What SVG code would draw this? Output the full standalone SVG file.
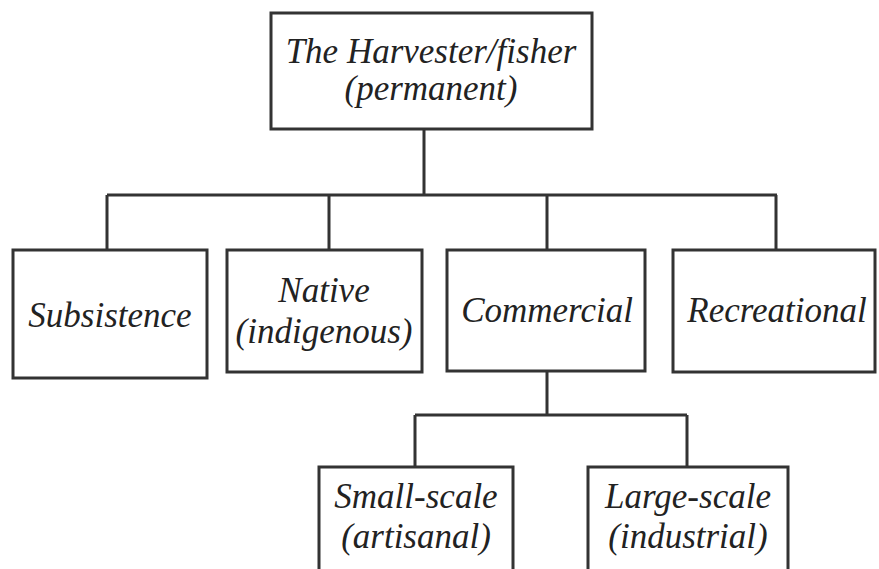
<svg xmlns="http://www.w3.org/2000/svg" width="879" height="569" viewBox="0 0 879 569">
<style>
.box{fill:#fff;stroke:#333;stroke-width:3}
.con{fill:none;stroke:#333;stroke-width:3}
.t{font-family:"Liberation Serif","Times New Roman",Times,serif;font-style:italic;font-size:35px;fill:#222;text-anchor:middle}
</style>
<rect width="879" height="569" fill="#fff"/>
<g id="connectors">
<path class="con" d="M424,129 V195 M107,195 H777 M107,195 V250 M329,195 V250 M547,195 V250 M776,195 V250"/>
<path class="con" d="M547,371 V415 M415,415 H687 M415,415 V467 M687,415 V467"/>
</g>
<g id="harvester">
<rect class="box" x="271" y="13" width="321" height="116"/>
<text class="t" x="431" y="63">The Harvester/fisher</text>
<text class="t" x="431" y="100">(permanent)</text>
</g>
<g id="subsistence">
<rect class="box" x="13" y="250" width="194" height="128"/>
<text class="t" x="110" y="327">Subsistence</text>
</g>
<g id="native">
<rect class="box" x="227" y="250" width="195" height="122"/>
<text class="t" x="324" y="302">Native</text>
<text class="t" x="324" y="343">(indigenous)</text>
</g>
<g id="commercial">
<rect class="box" x="447" y="250" width="198" height="121"/>
<text class="t" x="547" y="322">Commercial</text>
</g>
<g id="recreational">
<rect class="box" x="673" y="250" width="202" height="122"/>
<text class="t" x="777" y="322">Recreational</text>
</g>
<g id="smallscale">
<rect class="box" x="319" y="467" width="194" height="110"/>
<text class="t" x="416" y="508">Small-scale</text>
<text class="t" x="416" y="548">(artisanal)</text>
</g>
<g id="largescale">
<rect class="box" x="588" y="467" width="200" height="110"/>
<text class="t" x="688" y="508">Large-scale</text>
<text class="t" x="688" y="548">(industrial)</text>
</g>
</svg>
